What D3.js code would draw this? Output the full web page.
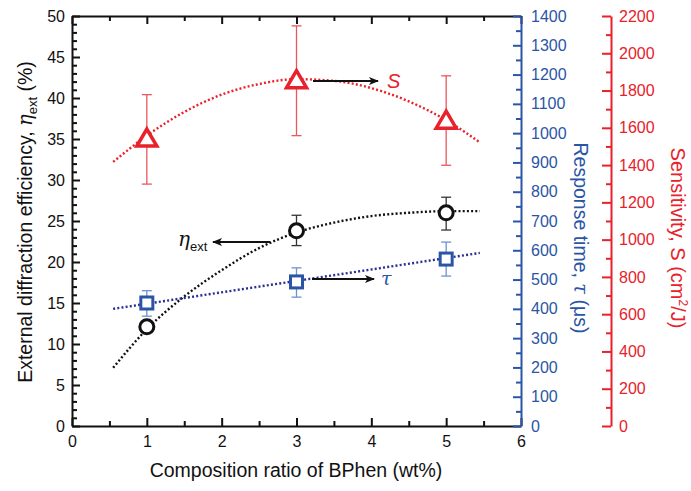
<!DOCTYPE html>
<html>
<head>
<meta charset="utf-8">
<script src="https://cdn.jsdelivr.net/npm/d3@7"></script>
<style>
  body { margin: 0; background: #fff; }
  text { font-family: "Liberation Sans", Arial, sans-serif; }
</style>
</head>
<body>
<script>
// data
const xVals = [1, 3, 5];
const etaVals = [12.1, 23.8, 26.0];
const etaHi = [12.1, 25.7, 27.9];
const etaLo = [12.1, 22.0, 23.9];
const tauVals = [420, 492, 570];
const tauHi = [462, 540, 628];
const tauLo = [375, 440, 512];
const sVals = [1545, 1858, 1641];
const sHi = [1778, 2147, 1879];
const sLo = [1298, 1558, 1399];

// dotted fit curves
const fitX = [0.55, 1, 1.5, 2, 2.5, 3, 3.5, 4, 4.5, 5, 5.45];
const etaFit = [7.1, 11.8, 15.8, 19.0, 21.7, 23.6, 24.8, 25.6, 26.0, 26.2, 26.2];
const sFit = [1417, 1558, 1685, 1778, 1835, 1861, 1852, 1813, 1742, 1641, 1522];
const tauFitX = [0.55, 5.45];
const tauFit = [400, 591];

const xTicks = [0, 1, 2, 3, 4, 5, 6];
const etaTicks = d3.range(0, 51, 5);
const tauTicks = d3.range(0, 1401, 100);
const sTicks = d3.range(0, 2201, 200);

const W = 691, H = 491;
const red = "#e8212a", blue = "#2a55a6", navy = "#28308f";
const fmt = d3.format("d");

const svg = d3.select("body").append("svg")
  .attr("width", W).attr("height", H);

const x = d3.scaleLinear().domain([0, 6]).range([72, 521]);
const yEta = d3.scaleLinear().domain([0, 50]).range([426, 16]);
const yTau = d3.scaleLinear().domain([0, 1400]).range([426, 16]);
const yS = d3.scaleLinear().domain([0, 2200]).range([426, 16]);

function styleAxis(g, color) {
  g.select(".domain").attr("stroke", color).attr("stroke-width", 2);
  g.selectAll(".tick line").attr("stroke", color).attr("stroke-width", 2);
  g.selectAll(".tick text").attr("fill", color).style("font-size", "16px")
    .style("font-family", "'Liberation Sans', Arial, sans-serif");
}
function minor(g, color) {
  g.select(".domain").remove();
  g.selectAll("line").attr("stroke", color).attr("stroke-width", 2);
}

// bottom axis
const gx = svg.append("g").attr("transform", "translate(0,426)")
  .call(d3.axisBottom(x).tickValues(xTicks).tickFormat(fmt).tickSizeInner(-8).tickSizeOuter(0).tickPadding(10));
styleAxis(gx, "#111");
svg.append("g").attr("transform", "translate(0,426)")
  .call(d3.axisBottom(x).tickValues(d3.range(0.5, 6, 1)).tickFormat("").tickSizeInner(-5).tickSizeOuter(0))
  .call(g => minor(g, "#111"));

// top mirror
const gt = svg.append("g").attr("transform", "translate(0,16)")
  .call(d3.axisTop(x).tickValues(xTicks).tickFormat("").tickSizeInner(-8).tickSizeOuter(0));
styleAxis(gt, "#111");
svg.append("g").attr("transform", "translate(0,16)")
  .call(d3.axisTop(x).tickValues(d3.range(0.5, 6, 1)).tickFormat("").tickSizeInner(-5).tickSizeOuter(0))
  .call(g => minor(g, "#111"));

// left axis
const gl = svg.append("g").attr("transform", "translate(72,0)")
  .call(d3.axisLeft(yEta).tickValues(etaTicks).tickFormat(fmt).tickSizeInner(-8).tickSizeOuter(0).tickPadding(7));
styleAxis(gl, "#111");
svg.append("g").attr("transform", "translate(72,0)")
  .call(d3.axisLeft(yEta).tickValues(d3.range(0, 51, 1).filter(d => d % 5)).tickFormat("").tickSizeInner(-5).tickSizeOuter(0))
  .call(g => minor(g, "#111"));

// blue axis
const gb = svg.append("g").attr("transform", "translate(521,0)")
  .call(d3.axisRight(yTau).tickValues(tauTicks).tickFormat(fmt).tickSizeInner(-8).tickSizeOuter(0).tickPadding(10));
styleAxis(gb, blue);
svg.append("g").attr("transform", "translate(521,0)")
  .call(d3.axisRight(yTau).tickValues(d3.range(50, 1400, 100)).tickFormat("").tickSizeInner(-5).tickSizeOuter(0))
  .call(g => minor(g, blue));

// red axis
const gr = svg.append("g").attr("transform", "translate(611,0)")
  .call(d3.axisRight(yS).tickValues(sTicks).tickFormat(fmt).tickSizeInner(-9).tickSizeOuter(0).tickPadding(8));
styleAxis(gr, red);
svg.append("g").attr("transform", "translate(611,0)")
  .call(d3.axisRight(yS).tickValues(d3.range(100, 2200, 200)).tickFormat("").tickSizeInner(-5).tickSizeOuter(0))
  .call(g => minor(g, red));

// axis titles
const lt = svg.append("text").attr("transform", "translate(32,222) rotate(-90)")
  .attr("text-anchor", "middle").style("font-size", "19.5px").attr("fill", "#111");
lt.append("tspan").text("External diffraction efficiency, ");
lt.append("tspan").style("font-style", "italic").style("font-family", "'DejaVu Serif', serif").text("η");
lt.append("tspan").style("font-size", "13px").attr("dy", 5).text("ext");
lt.append("tspan").attr("dy", -5).text(" (%)");

svg.append("text").attr("x", 296).attr("y", 477).attr("text-anchor", "middle")
  .style("font-size", "19.5px").attr("fill", "#111").text("Composition ratio of BPhen (wt%)");

const bt = svg.append("text").attr("transform", "translate(574,238) rotate(90)")
  .attr("text-anchor", "middle").style("font-size", "19.5px").attr("fill", blue);
bt.append("tspan").text("Response time, ");
bt.append("tspan").style("font-style", "italic").style("font-family", "'DejaVu Serif', serif").text("τ");
bt.append("tspan").text(" (μs)");

const rt = svg.append("text").attr("transform", "translate(671,238) rotate(90)")
  .attr("text-anchor", "middle").style("font-size", "20px").attr("fill", red);
rt.append("tspan").text("Sensitivity, S (cm");
rt.append("tspan").style("font-size", "12px").attr("dy", -8).text("2");
rt.append("tspan").attr("dy", 8).text("/J)");

// fit curves
const line = (xs, ys, ysc) => d3.line().curve(d3.curveMonotoneX)
  .x((d, i) => x(xs[i])).y(d => ysc(d))(ys);

svg.append("path").attr("d", line(fitX, sFit, yS)).attr("fill", "none")
  .attr("stroke", red).attr("stroke-width", 2.4).attr("stroke-dasharray", "2,2.2");
svg.append("path").attr("d", line(fitX, etaFit, yEta)).attr("fill", "none")
  .attr("stroke", "#111").attr("stroke-width", 2.4).attr("stroke-dasharray", "2,2.2");
svg.append("path").attr("d", line(tauFitX, tauFit, yTau)).attr("fill", "none")
  .attr("stroke", navy).attr("stroke-width", 2.4).attr("stroke-dasharray", "2,2.2");

// error bars
function errBars(lo, hi, ysc, color, w) {
  const g = svg.append("g").attr("stroke", color).attr("stroke-width", w);
  xVals.forEach((xv, i) => {
    if (hi[i] === lo[i]) return;
    g.append("line").attr("x1", x(xv)).attr("x2", x(xv)).attr("y1", ysc(lo[i])).attr("y2", ysc(hi[i]));
    [lo[i], hi[i]].forEach(v => g.append("line")
      .attr("x1", x(xv) - 5).attr("x2", x(xv) + 5).attr("y1", ysc(v)).attr("y2", ysc(v)));
  });
}
errBars(sLo, sHi, yS, "#e9585d", 1.3);
errBars(etaLo, etaHi, yEta, "#333", 1.3);
errBars(tauLo, tauHi, yTau, "#6f92cc", 1.3);

// markers
svg.selectAll(".tri").data(sVals).join("path").attr("class", "tri")
  .attr("transform", (d, i) => `translate(${x(xVals[i])},${yS(d)})`)
  .attr("d", "M0,-9L10,8L-10,8Z").attr("fill", "#fff")
  .attr("stroke", red).attr("stroke-width", 3.5).attr("stroke-linejoin", "miter");

svg.selectAll(".circ").data(etaVals).join("circle").attr("class", "circ")
  .attr("cx", (d, i) => x(xVals[i])).attr("cy", d => yEta(d)).attr("r", 7)
  .attr("fill", "#fff").attr("stroke", "#111").attr("stroke-width", 3);

svg.selectAll(".sq").data(tauVals).join("rect").attr("class", "sq")
  .attr("x", (d, i) => x(xVals[i]) - 6).attr("y", d => yTau(d) - 6)
  .attr("width", 12).attr("height", 12)
  .attr("fill", "#fff").attr("stroke", blue).attr("stroke-width", 3);

// arrows
svg.append("defs").append("marker").attr("id", "ah")
  .attr("viewBox", "0 0 10 8").attr("refX", 9).attr("refY", 4)
  .attr("markerWidth", 10).attr("markerHeight", 8).attr("markerUnits", "userSpaceOnUse")
  .attr("orient", "auto")
  .append("path").attr("d", "M0,0L10,4L0,8L2.5,4Z").attr("fill", "#111");

function arrow(x1, x2, y) {
  svg.append("line").attr("x1", x1).attr("x2", x2).attr("y1", y).attr("y2", y)
    .attr("stroke", "#111").attr("stroke-width", 2).attr("marker-end", "url(#ah)");
}
arrow(313, 378, 81);
arrow(270, 213, 242);
arrow(312, 374, 279);

svg.append("text").attr("x", 387).attr("y", 88).style("font-size", "20px")
  .style("font-style", "italic").attr("fill", red).text("S");
svg.append("text").attr("x", 381).attr("y", 285).style("font-size", "19px")
  .style("font-style", "italic").style("font-family", "'DejaVu Serif', serif").attr("fill", blue).text("τ");
const et = svg.append("text").attr("x", 178).attr("y", 246).attr("fill", "#111");
et.append("tspan").style("font-size", "20px").style("font-style", "italic")
  .style("font-family", "'DejaVu Serif', serif").text("η");
et.append("tspan").style("font-size", "13px").attr("dy", 5).text("ext");
</script>
</body>
</html>
